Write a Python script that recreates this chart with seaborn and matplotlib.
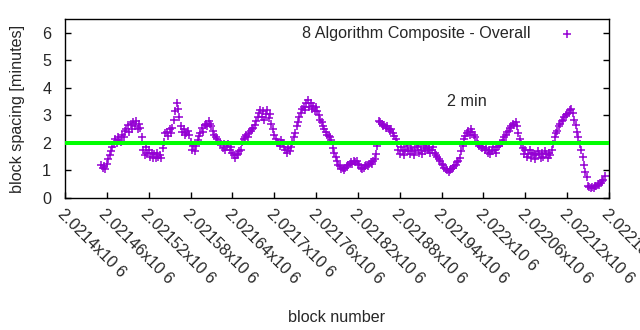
import numpy as np
import pandas as pd
import matplotlib
matplotlib.use("Agg")
import matplotlib.pyplot as plt
import seaborn as sns

# Block spacing (minutes), one value every 2 blocks starting at block 2021452
first_block = 2021452
block_step = 2
spacing = [
    1.2, 1.1, 1.15, 1.05, 1.25,
    1.4, 1.55, 1.7, 1.85,
    1.95, 2.15, 2.0, 2.2, 2.1, 2.05, 2.3, 2.2, 2.45,
    2.5, 2.65, 2.4, 2.7, 2.5, 2.75, 2.6, 2.8, 2.5, 2.7, 2.55,
    2.2,
    1.75, 1.55, 1.85, 1.65, 1.75, 1.5, 1.65, 1.45, 1.6, 1.45, 1.65, 1.5, 1.55, 1.45,
    1.8, 2.05, 2.35, 2.4, 2.25, 2.5, 2.35, 2.55,
    2.85, 3.15, 3.45,
    3.25, 2.95, 2.6, 2.4, 2.5, 2.3, 2.35, 2.45, 2.3,
    2.05, 1.75, 1.9, 1.7, 1.9,
    2.1, 2.25, 2.35, 2.55, 2.4, 2.65, 2.7, 2.6, 2.8, 2.7, 2.6,
    2.45, 2.3, 2.2, 2.15, 2.05, 2.0, 1.95,
    1.8, 1.95, 1.75, 1.9, 1.95, 1.75, 1.85,
    1.65, 1.55, 1.45, 1.55, 1.6, 1.7, 1.75,
    2.05, 2.15, 2.2, 2.3, 2.2, 2.35,
    2.45, 2.5, 2.55, 2.65,
    2.8, 2.95, 3.1, 3.2, 2.95, 3.15, 2.85, 3.05, 3.2, 2.9, 3.05,
    2.7, 2.5, 2.3,
    2.15, 2.05, 2.0, 1.9, 2.1, 2.0,
    1.85, 1.75, 1.65, 1.8, 1.7, 1.85,
    2.05, 2.2, 2.35,
    2.6, 2.75, 2.95,
    3.1, 3.25, 3.3, 3.2, 3.45, 3.55, 3.3, 3.45, 3.25, 3.35, 3.15, 3.3, 3.15,
    3.0, 2.85, 2.75, 2.6,
    2.5, 2.4, 2.3, 2.25, 2.2, 2.1,
    1.8, 1.65, 1.5, 1.35, 1.2, 1.15, 1.05, 1.1, 1.0,
    1.1, 1.15, 1.2, 1.25, 1.3, 1.25, 1.35, 1.3,
    1.35, 1.25, 1.2, 1.1, 1.05,
    1.1, 1.15, 1.2, 1.15, 1.25, 1.3, 1.25, 1.35, 1.4,
    1.6, 1.9,
    2.8, 2.75, 2.7, 2.6, 2.65, 2.55, 2.6, 2.5, 2.45, 2.5,
    2.35, 2.25, 2.15, 2.0,
    1.75, 1.6, 1.85, 1.7, 1.55, 1.75, 1.9, 1.7, 1.6, 1.8, 1.75, 1.55, 1.7,
    1.85, 1.9, 1.65, 1.75, 1.6, 1.8, 1.7, 1.9, 1.75, 1.8, 1.65, 1.75, 1.85, 1.65,
    1.55, 1.5, 1.4, 1.35, 1.25, 1.2, 1.1, 1.05, 1.0, 0.95,
    1.0, 1.05, 1.1, 1.15, 1.2, 1.3, 1.35, 1.45,
    1.7, 1.9,
    2.15, 2.25, 2.35, 2.45, 2.3, 2.5, 2.4, 2.3, 2.2,
    2.05, 1.95, 1.9, 1.85, 1.8, 1.85, 1.75,
    1.8, 1.65, 1.75, 1.6, 1.7, 1.85, 1.75, 1.65, 1.85, 1.9, 1.95, 2.0,
    2.1, 2.2, 2.3, 2.4, 2.45, 2.55, 2.6, 2.7, 2.65, 2.75, 2.6,
    2.35, 2.15, 1.95,
    1.8, 1.6, 1.75, 1.5, 1.6, 1.75, 1.45, 1.65, 1.6, 1.4, 1.55, 1.7, 1.6, 1.45,
    1.65, 1.5, 1.7, 1.6, 1.45, 1.65, 1.55,
    1.75, 1.95, 2.2, 2.35, 2.45,
    2.6, 2.7, 2.8, 2.85, 2.95, 3.0, 3.05, 3.1, 3.2, 3.25, 3.1,
    2.85, 2.65, 2.4,
    2.2, 1.95, 1.75, 1.5,
    1.2, 0.95, 0.75,
    0.45, 0.4, 0.35, 0.4, 0.38, 0.42, 0.45, 0.5, 0.48, 0.55, 0.6,
    0.65, 0.8,
]
target_minutes = 2.0

x_ticks = [2021400, 2021460, 2021520, 2021580, 2021640, 2021700, 2021760,
           2021820, 2021880, 2021940, 2022000, 2022060, 2022120, 2022180]
x_tick_labels = ["2.0214x10 6", "2.02146x10 6", "2.02152x10 6", "2.02158x10 6",
                 "2.02164x10 6", "2.0217x10 6", "2.02176x10 6", "2.02182x10 6",
                 "2.02188x10 6", "2.02194x10 6", "2.022x10 6", "2.02206x10 6",
                 "2.02212x10 6", "2.02218x10 6"]
y_ticks = [0, 1, 2, 3, 4, 5, 6]

df = pd.DataFrame({
    "block": first_block + block_step * np.arange(len(spacing)),
    "spacing": spacing,
})

sns.set_style("ticks")
plt.rcParams["font.family"] = ["Liberation Sans", "DejaVu Sans"]
FS = 11.6
plt.rcParams["font.size"] = FS

fig = plt.figure(figsize=(6.4, 3.3), dpi=100)
ax = fig.add_axes([0.1016, 0.40, 0.850, 0.5424])

sns.scatterplot(data=df, x="block", y="spacing", marker="+", s=34,
                color="#9400D3", linewidth=1.1, ax=ax,
                label="8 Algorithm Composite - Overall", zorder=2)
ax.axhline(target_minutes, color="#00FF00", linewidth=2.9, zorder=3)
ax.text(2021948, 3.49, "2 min", ha="left", va="center", fontsize=FS)

ax.set_xlim(x_ticks[0], x_ticks[-1])
ax.set_ylim(0, 6.5)
ax.set_yticks(y_ticks)
ax.set_yticklabels([str(v) for v in y_ticks])
ax.set_xticks(x_ticks)
ax.set_xticklabels(x_tick_labels, rotation=-45, ha="left", va="top",
                   rotation_mode="anchor")
ax.tick_params(axis="both", direction="in", length=4, width=1, color="black",
               labelsize=FS)
ax.tick_params(axis="y", right=True, pad=10)
ax.tick_params(axis="x", pad=6)
for sp in ax.spines.values():
    sp.set_visible(True)
    sp.set_color("black")
    sp.set_linewidth(1)

ax.set_xlabel("block number", fontsize=FS)
ax.set_ylabel("block spacing [minutes]", fontsize=FS)
ax.xaxis.set_label_coords(0.5, -0.626)
ax.yaxis.set_label_coords(-0.074, 0.5)

leg = ax.legend(loc="upper right", bbox_to_anchor=(0.9515, 0.962),
                frameon=False, markerfirst=False, borderpad=0,
                borderaxespad=0, handlelength=2.0, handletextpad=1.25,
                fontsize=FS)

fig.savefig("out.png", dpi=100)
